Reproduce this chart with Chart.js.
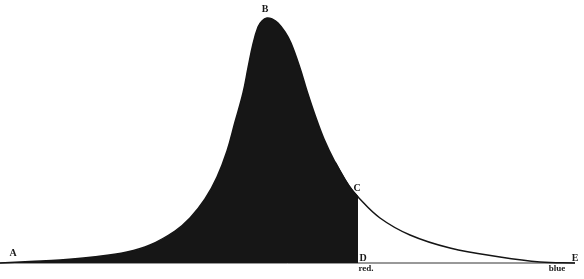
<!DOCTYPE html>
<html>
<head>
<meta charset="utf-8">
<script src="https://cdn.jsdelivr.net/npm/chart.js@4"></script>
<style>
  body { margin: 0; background: #fff; }
  canvas { display: block; }
</style>
</head>
<body>
<canvas id="curve" width="584" height="279"></canvas>
<script>
// intensity curve, left part (shaded, A to D) and right part (C to E)
const leftX = [0, 30, 60, 93, 127, 150, 175, 190, 205, 217, 227, 235, 243, 248, 253, 258, 262, 267, 272, 278, 285, 291, 300, 307, 315, 324, 335, 349, 358];
const leftY = [0, 1.5, 3, 6, 11, 18, 32, 45, 64, 86, 112, 141, 170, 195, 219, 236, 242, 245, 244, 240, 231, 220, 195, 172, 148, 124, 101, 77, 66];
const rightX = [335, 349, 358, 380, 410, 450, 500, 540, 575];
const rightY = [101, 77, 66, 45, 28, 15, 6, 1, 0];

const letters = ['A', 'B', 'C', 'D', 'E', 'red.', 'blue'];
const letterX = [13, 265, 357, 363, 575, 366, 557];
const letterY = [10, 254, 75, 5, 5, -6, -6];

const pts = (xs, ys) => xs.map((x, i) => ({ x: x, y: ys[i] }));

const labelPlugin = {
    id: 'letters',
    afterDatasetsDraw(chart) {
        const c = chart.ctx;
        c.save();
        c.fillStyle = '#1a1a1a';
        c.textAlign = 'center';
        c.textBaseline = 'middle';
        letters.forEach((t, i) => {
            c.font = t.length > 1 ? 'bold 9px "Liberation Serif"' : 'bold 10px "Liberation Serif"';
            c.fillText(t, chart.scales.x.getPixelForValue(letterX[i]), chart.scales.y.getPixelForValue(letterY[i]));
        });
        c.restore();
    }
};

const ctx = document.getElementById('curve').getContext('2d');
const myChart = new Chart(ctx, {
    type: 'line',
    data: {
        datasets: [{
            data: pts(leftX, leftY),
            borderColor: '#151515',
            backgroundColor: '#161616',
            borderWidth: 1.5,
            fill: 'origin',
            tension: 0.4,
            pointRadius: 0
        }, {
            data: pts(rightX, rightY),
            borderColor: '#151515',
            borderWidth: 1.5,
            fill: false,
            tension: 0.4,
            pointRadius: 0
        }, {
            data: pts([0, 575], [0, 0]),
            borderColor: '#333',
            borderWidth: 1,
            fill: false,
            pointRadius: 0
        }]
    },
    options: {
        responsive: false,
        animation: false,
        layout: { padding: 0 },
        plugins: { legend: { display: false }, tooltip: { enabled: false } },
        scales: {
            x: { type: 'linear', display: false, min: 0, max: 584 },
            y: { display: false, min: -16, max: 263 }
        }
    },
    plugins: [labelPlugin]
});
</script>
</body>
</html>
